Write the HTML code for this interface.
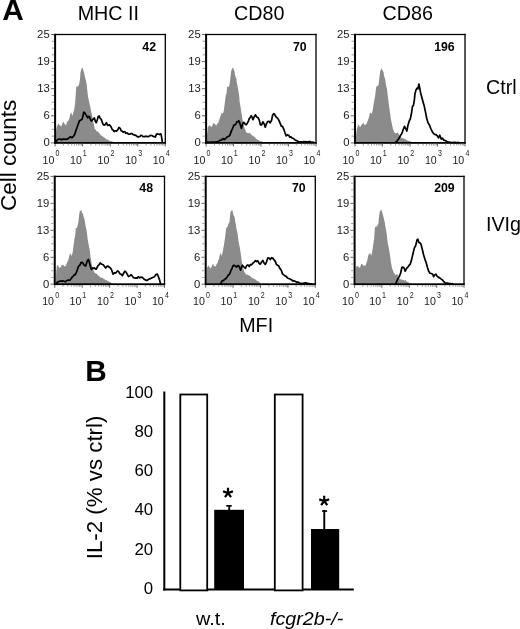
<!DOCTYPE html><html><head><meta charset="utf-8"><title>Figure</title><style>html,body{margin:0;padding:0;background:#fff;overflow:hidden;}svg{display:block;will-change:transform;}text{font-family:"Liberation Sans",sans-serif;}</style></head><body>
<svg width="520" height="629" viewBox="0 0 520 629">
<rect width="520" height="629" fill="#fff"/>
<text x="2.35" y="20.20" font-size="29.8" font-weight="bold">A</text>
<text x="77.72" y="20.00" font-size="19.7">MHC II</text>
<text x="234.11" y="20.20" font-size="19.7">CD80</text>
<text x="382.51" y="20.20" font-size="19.7">CD86</text>
<text x="486.12" y="94.10" font-size="19.7">Ctrl</text>
<text x="486.03" y="230.50" font-size="19.7">IVIg</text>
<text transform="translate(16.20,211.03) rotate(-90)" font-size="22.5">Cell counts</text>
<text x="239.22" y="332.30" font-size="19.7">MFI</text>
<text x="85.16" y="380.80" font-size="29.8" font-weight="bold">B</text>
<polygon points="55.60,143.00 56.20,129.92 56.90,126.07 57.60,125.52 58.30,123.03 59.05,124.86 59.80,125.56 60.50,125.45 61.20,126.70 61.95,124.55 62.70,122.78 63.60,121.63 64.60,124.06 65.30,124.66 66.00,125.39 66.75,122.67 67.50,121.40 68.40,120.73 69.40,118.34 70.30,113.94 71.30,112.24 72.30,115.96 73.20,113.06 74.20,109.59 75.20,102.59 75.90,92.31 76.30,86.71 77.20,86.16 77.85,86.72 78.50,85.63 79.40,83.04 80.10,77.98 80.40,72.73 81.00,70.39 82.00,67.61 82.60,67.76 83.30,70.37 84.20,72.90 84.80,76.56 85.50,79.10 86.10,81.15 86.80,84.87 87.10,88.59 87.70,93.96 88.30,98.31 89.00,101.36 90.10,105.64 91.00,110.41 92.00,115.40 92.90,120.12 93.90,124.69 94.90,129.49 95.60,129.31 96.30,130.98 97.05,131.67 97.80,131.01 98.70,132.99 99.45,133.13 100.20,134.60 100.83,135.20 101.47,135.48 102.10,136.30 102.73,136.18 103.37,137.03 104.00,137.39 104.67,137.87 105.33,138.26 106.00,139.08 106.60,139.46 107.20,139.38 107.80,139.82 108.40,139.68 109.00,140.44 109.60,140.64 110.20,141.11 110.80,141.23 111.40,141.12 112.00,141.43 112.60,141.80 113.20,141.62 113.80,142.08 114.40,142.12 115.00,142.50 117.00,143.00" fill="#8b8b8b"/>
<polyline points="56.20,141.99 57.20,139.88 57.80,139.61 58.80,139.11 59.80,139.20 60.75,139.37 61.70,139.79 62.65,139.02 63.60,139.16 64.55,139.14 65.50,139.31 66.50,139.16 67.50,139.10 68.20,138.36 68.90,138.23 69.90,137.17 70.80,136.89 71.80,137.73 72.80,136.97 73.70,135.97 74.70,134.31 75.60,131.39 76.60,128.69 77.60,125.96 78.50,123.37 79.50,120.51 80.40,120.35 81.40,119.76 82.40,118.64 82.80,116.44 83.80,112.14 84.80,112.83 85.70,114.41 86.70,116.02 87.70,117.86 88.60,116.42 89.60,116.75 90.50,119.67 91.50,121.04 92.50,119.81 93.40,118.82 94.40,117.89 95.30,121.24 96.30,122.66 97.30,119.77 98.20,116.58 99.20,115.99 100.20,118.31 101.10,119.19 102.10,121.63 103.00,124.17 104.00,125.18 105.20,124.45 106.40,122.65 107.60,125.37 108.50,125.21 109.40,124.67 110.30,125.75 111.20,127.02 112.30,129.79 113.20,130.04 114.10,131.70 115.30,130.76 116.50,131.15 117.70,129.98 118.90,127.51 120.10,128.15 121.30,130.97 122.20,131.17 123.10,132.26 124.00,131.64 124.90,131.76 125.80,133.29 126.70,133.04 127.55,133.16 128.40,134.25 129.60,134.26 130.80,133.63 132.00,133.62 133.20,134.63 134.40,135.03 135.60,135.14 136.50,136.06 137.40,136.68 138.30,137.07 139.20,136.63 140.10,136.29 141.00,135.21 141.90,135.50 142.80,136.52 143.65,136.70 144.50,136.57 145.40,136.32 146.30,136.14 147.20,136.64 148.10,136.73 149.00,136.42 149.90,135.65 150.80,135.40 151.70,135.50 152.60,136.07 153.50,136.36 154.40,136.79 155.30,137.06 156.50,134.14 157.70,133.95 158.55,134.30 159.40,134.55 160.20,133.94 161.00,134.10 161.80,138.33 162.40,142.60" fill="none" stroke="#000" stroke-width="1.7" stroke-linejoin="round"/>
<rect x="54.10" y="33.85" width="2" height="109.95" fill="#000"/>
<rect x="54.10" y="33.85" width="111.85" height="1.3" fill="#000"/>
<rect x="164.65" y="33.85" width="1.3" height="109.95" fill="#000"/>
<rect x="54.10" y="142.00" width="111.85" height="1.8" fill="#000"/>
<line x1="50.90" x2="54.10" y1="34.50" y2="34.50" stroke="#666" stroke-width="1"/>
<line x1="51.60" x2="54.10" y1="41.27" y2="41.27" stroke="#9a9a9a" stroke-width="1"/>
<line x1="51.60" x2="54.10" y1="48.05" y2="48.05" stroke="#9a9a9a" stroke-width="1"/>
<line x1="51.60" x2="54.10" y1="54.83" y2="54.83" stroke="#9a9a9a" stroke-width="1"/>
<line x1="50.90" x2="54.10" y1="61.60" y2="61.60" stroke="#666" stroke-width="1"/>
<line x1="51.60" x2="54.10" y1="68.38" y2="68.38" stroke="#9a9a9a" stroke-width="1"/>
<line x1="51.60" x2="54.10" y1="75.15" y2="75.15" stroke="#9a9a9a" stroke-width="1"/>
<line x1="51.60" x2="54.10" y1="81.93" y2="81.93" stroke="#9a9a9a" stroke-width="1"/>
<line x1="50.90" x2="54.10" y1="88.70" y2="88.70" stroke="#666" stroke-width="1"/>
<line x1="51.60" x2="54.10" y1="95.47" y2="95.47" stroke="#9a9a9a" stroke-width="1"/>
<line x1="51.60" x2="54.10" y1="102.25" y2="102.25" stroke="#9a9a9a" stroke-width="1"/>
<line x1="51.60" x2="54.10" y1="109.03" y2="109.03" stroke="#9a9a9a" stroke-width="1"/>
<line x1="50.90" x2="54.10" y1="115.80" y2="115.80" stroke="#666" stroke-width="1"/>
<line x1="51.60" x2="54.10" y1="122.58" y2="122.58" stroke="#9a9a9a" stroke-width="1"/>
<line x1="51.60" x2="54.10" y1="129.35" y2="129.35" stroke="#9a9a9a" stroke-width="1"/>
<line x1="51.60" x2="54.10" y1="136.12" y2="136.12" stroke="#9a9a9a" stroke-width="1"/>
<line x1="50.90" x2="54.10" y1="142.90" y2="142.90" stroke="#666" stroke-width="1"/>
<text x="37.11" y="38.05" font-size="11.3" fill="#1a1a1a">25</text>
<text x="37.17" y="65.15" font-size="11.3" fill="#1a1a1a">19</text>
<text x="37.17" y="92.25" font-size="11.3" fill="#1a1a1a">13</text>
<text x="43.44" y="119.35" font-size="11.3" fill="#1a1a1a">6</text>
<text x="43.38" y="146.45" font-size="11.3" fill="#1a1a1a">0</text>
<line x1="55.10" x2="55.10" y1="143.80" y2="146.50" stroke="#666" stroke-width="1"/>
<line x1="63.39" x2="63.39" y1="143.80" y2="145.50" stroke="#999" stroke-width="1"/>
<line x1="68.24" x2="68.24" y1="143.80" y2="145.50" stroke="#999" stroke-width="1"/>
<line x1="71.69" x2="71.69" y1="143.80" y2="145.50" stroke="#999" stroke-width="1"/>
<line x1="74.36" x2="74.36" y1="143.80" y2="145.50" stroke="#999" stroke-width="1"/>
<line x1="76.54" x2="76.54" y1="143.80" y2="145.50" stroke="#999" stroke-width="1"/>
<line x1="78.38" x2="78.38" y1="143.80" y2="145.50" stroke="#999" stroke-width="1"/>
<line x1="79.98" x2="79.98" y1="143.80" y2="145.50" stroke="#999" stroke-width="1"/>
<line x1="81.39" x2="81.39" y1="143.80" y2="145.50" stroke="#999" stroke-width="1"/>
<line x1="82.65" x2="82.65" y1="143.80" y2="146.50" stroke="#666" stroke-width="1"/>
<line x1="90.94" x2="90.94" y1="143.80" y2="145.50" stroke="#999" stroke-width="1"/>
<line x1="95.79" x2="95.79" y1="143.80" y2="145.50" stroke="#999" stroke-width="1"/>
<line x1="99.24" x2="99.24" y1="143.80" y2="145.50" stroke="#999" stroke-width="1"/>
<line x1="101.91" x2="101.91" y1="143.80" y2="145.50" stroke="#999" stroke-width="1"/>
<line x1="104.09" x2="104.09" y1="143.80" y2="145.50" stroke="#999" stroke-width="1"/>
<line x1="105.93" x2="105.93" y1="143.80" y2="145.50" stroke="#999" stroke-width="1"/>
<line x1="107.53" x2="107.53" y1="143.80" y2="145.50" stroke="#999" stroke-width="1"/>
<line x1="108.94" x2="108.94" y1="143.80" y2="145.50" stroke="#999" stroke-width="1"/>
<line x1="110.20" x2="110.20" y1="143.80" y2="146.50" stroke="#666" stroke-width="1"/>
<line x1="118.49" x2="118.49" y1="143.80" y2="145.50" stroke="#999" stroke-width="1"/>
<line x1="123.34" x2="123.34" y1="143.80" y2="145.50" stroke="#999" stroke-width="1"/>
<line x1="126.79" x2="126.79" y1="143.80" y2="145.50" stroke="#999" stroke-width="1"/>
<line x1="129.46" x2="129.46" y1="143.80" y2="145.50" stroke="#999" stroke-width="1"/>
<line x1="131.64" x2="131.64" y1="143.80" y2="145.50" stroke="#999" stroke-width="1"/>
<line x1="133.48" x2="133.48" y1="143.80" y2="145.50" stroke="#999" stroke-width="1"/>
<line x1="135.08" x2="135.08" y1="143.80" y2="145.50" stroke="#999" stroke-width="1"/>
<line x1="136.49" x2="136.49" y1="143.80" y2="145.50" stroke="#999" stroke-width="1"/>
<line x1="137.75" x2="137.75" y1="143.80" y2="146.50" stroke="#666" stroke-width="1"/>
<line x1="146.04" x2="146.04" y1="143.80" y2="145.50" stroke="#999" stroke-width="1"/>
<line x1="150.89" x2="150.89" y1="143.80" y2="145.50" stroke="#999" stroke-width="1"/>
<line x1="154.34" x2="154.34" y1="143.80" y2="145.50" stroke="#999" stroke-width="1"/>
<line x1="157.01" x2="157.01" y1="143.80" y2="145.50" stroke="#999" stroke-width="1"/>
<line x1="159.19" x2="159.19" y1="143.80" y2="145.50" stroke="#999" stroke-width="1"/>
<line x1="161.03" x2="161.03" y1="143.80" y2="145.50" stroke="#999" stroke-width="1"/>
<line x1="162.63" x2="162.63" y1="143.80" y2="145.50" stroke="#999" stroke-width="1"/>
<line x1="164.04" x2="164.04" y1="143.80" y2="145.50" stroke="#999" stroke-width="1"/>
<line x1="165.30" x2="165.30" y1="143.80" y2="146.50" stroke="#666" stroke-width="1"/>
<text transform="translate(42.52,163.50) scale(0.95,1)" font-size="11.2" fill="#222">10</text>
<text transform="translate(55.52,156.20) scale(0.85,1)" font-size="8.3" fill="#222">0</text>
<text transform="translate(70.07,163.50) scale(0.95,1)" font-size="11.2" fill="#222">10</text>
<text transform="translate(82.82,156.20) scale(0.85,1)" font-size="8.3" fill="#222">1</text>
<text transform="translate(97.62,163.50) scale(0.95,1)" font-size="11.2" fill="#222">10</text>
<text transform="translate(110.55,156.20) scale(0.85,1)" font-size="8.3" fill="#222">2</text>
<text transform="translate(125.17,163.50) scale(0.95,1)" font-size="11.2" fill="#222">10</text>
<text transform="translate(138.17,156.20) scale(0.85,1)" font-size="8.3" fill="#222">3</text>
<text transform="translate(152.72,163.50) scale(0.95,1)" font-size="11.2" fill="#222">10</text>
<text transform="translate(165.82,156.20) scale(0.85,1)" font-size="8.3" fill="#222">4</text>
<text x="142.34" y="50.80" font-size="12.3" font-weight="bold">42</text>
<polygon points="206.50,143.00 207.30,131.88 207.90,127.19 208.60,126.22 209.30,125.02 210.30,126.41 211.00,126.21 211.70,126.97 212.45,125.59 213.20,122.65 213.90,123.44 214.60,123.64 215.35,124.61 216.10,125.75 216.80,124.51 217.50,123.22 218.20,122.92 218.90,120.91 219.90,117.76 220.90,114.65 221.80,112.61 222.80,113.75 223.80,110.64 224.70,103.82 225.70,95.82 226.50,93.60 227.20,86.17 228.10,87.23 228.75,86.55 229.40,85.31 230.00,81.28 230.70,74.96 231.30,70.58 232.30,68.13 233.20,67.73 233.80,69.64 234.50,71.24 235.10,75.55 235.80,77.57 236.40,78.51 236.70,81.93 237.30,84.86 238.00,88.30 238.60,92.08 239.20,96.14 239.60,101.57 240.60,107.39 241.50,113.16 242.50,120.05 243.50,123.67 244.40,127.66 245.40,130.05 246.10,132.37 246.80,132.81 247.55,132.95 248.30,133.11 249.00,133.28 249.70,132.39 250.45,133.97 251.20,134.40 251.83,135.07 252.47,135.69 253.10,135.81 253.73,136.74 254.37,137.00 255.00,137.35 255.72,138.61 256.45,138.63 257.17,139.43 257.90,140.16 258.52,140.34 259.15,140.48 259.77,140.91 260.40,141.24 261.00,141.54 261.60,141.29 262.20,141.74 262.80,141.72 263.40,141.91 264.00,142.20 267.00,143.00" fill="#8b8b8b"/>
<polyline points="206.90,142.25 207.67,142.10 208.44,142.13 209.21,142.25 209.98,142.33 210.75,142.07 211.52,142.16 212.29,142.10 213.06,142.11 213.83,142.21 214.60,142.07 215.35,142.02 216.10,141.89 216.80,141.91 217.50,141.52 218.20,141.44 218.90,141.29 219.65,140.44 220.40,140.24 221.10,140.13 221.80,139.67 222.55,138.91 223.30,138.69 224.20,139.66 225.20,138.65 226.20,138.07 227.10,136.90 228.10,136.47 229.00,136.20 230.00,134.87 231.00,131.86 231.90,129.94 232.90,127.98 233.80,125.16 234.80,124.99 235.80,124.24 236.70,121.90 237.70,122.21 238.70,120.62 239.60,122.39 240.60,126.06 241.50,128.37 242.50,124.19 243.50,122.28 244.40,122.93 245.40,124.51 246.30,124.75 247.30,123.07 248.30,121.40 249.20,118.64 250.20,117.70 251.20,115.67 252.10,117.23 253.00,119.61 254.20,116.82 255.50,114.81 256.70,117.02 257.90,117.47 259.20,119.86 260.40,124.85 261.60,124.99 262.80,121.78 264.10,123.75 265.30,127.25 266.50,123.59 267.80,121.53 269.00,121.36 270.20,122.94 271.50,120.47 272.70,114.97 273.90,113.57 275.20,115.55 276.40,117.33 277.60,118.16 278.80,120.08 280.10,123.20 281.30,126.14 282.50,126.37 283.80,129.30 285.00,132.77 286.20,135.84 287.50,134.85 288.70,135.25 289.90,137.25 290.85,136.79 291.80,137.84 292.70,138.11 293.60,138.67 294.55,139.44 295.50,140.31 296.40,140.44 297.30,140.96 298.25,141.67 299.20,141.95 299.95,141.88 300.70,141.91 301.45,141.85 302.20,141.93 303.03,141.82 303.87,141.65 304.70,141.76 305.53,141.64 306.37,141.93 307.20,141.92 308.00,141.91 308.80,141.62 309.60,141.65 310.43,141.65 311.27,142.20 312.10,142.23 312.90,142.13 313.70,142.39 314.50,142.50" fill="none" stroke="#000" stroke-width="1.7" stroke-linejoin="round"/>
<rect x="205.10" y="33.85" width="2" height="109.95" fill="#000"/>
<rect x="205.10" y="33.85" width="111.55" height="1.3" fill="#000"/>
<rect x="315.35" y="33.85" width="1.3" height="109.95" fill="#000"/>
<rect x="205.10" y="142.00" width="111.55" height="1.8" fill="#000"/>
<line x1="201.90" x2="205.10" y1="34.50" y2="34.50" stroke="#666" stroke-width="1"/>
<line x1="202.60" x2="205.10" y1="41.27" y2="41.27" stroke="#9a9a9a" stroke-width="1"/>
<line x1="202.60" x2="205.10" y1="48.05" y2="48.05" stroke="#9a9a9a" stroke-width="1"/>
<line x1="202.60" x2="205.10" y1="54.83" y2="54.83" stroke="#9a9a9a" stroke-width="1"/>
<line x1="201.90" x2="205.10" y1="61.60" y2="61.60" stroke="#666" stroke-width="1"/>
<line x1="202.60" x2="205.10" y1="68.38" y2="68.38" stroke="#9a9a9a" stroke-width="1"/>
<line x1="202.60" x2="205.10" y1="75.15" y2="75.15" stroke="#9a9a9a" stroke-width="1"/>
<line x1="202.60" x2="205.10" y1="81.93" y2="81.93" stroke="#9a9a9a" stroke-width="1"/>
<line x1="201.90" x2="205.10" y1="88.70" y2="88.70" stroke="#666" stroke-width="1"/>
<line x1="202.60" x2="205.10" y1="95.47" y2="95.47" stroke="#9a9a9a" stroke-width="1"/>
<line x1="202.60" x2="205.10" y1="102.25" y2="102.25" stroke="#9a9a9a" stroke-width="1"/>
<line x1="202.60" x2="205.10" y1="109.03" y2="109.03" stroke="#9a9a9a" stroke-width="1"/>
<line x1="201.90" x2="205.10" y1="115.80" y2="115.80" stroke="#666" stroke-width="1"/>
<line x1="202.60" x2="205.10" y1="122.58" y2="122.58" stroke="#9a9a9a" stroke-width="1"/>
<line x1="202.60" x2="205.10" y1="129.35" y2="129.35" stroke="#9a9a9a" stroke-width="1"/>
<line x1="202.60" x2="205.10" y1="136.12" y2="136.12" stroke="#9a9a9a" stroke-width="1"/>
<line x1="201.90" x2="205.10" y1="142.90" y2="142.90" stroke="#666" stroke-width="1"/>
<text x="188.11" y="38.05" font-size="11.3" fill="#1a1a1a">25</text>
<text x="188.17" y="65.15" font-size="11.3" fill="#1a1a1a">19</text>
<text x="188.17" y="92.25" font-size="11.3" fill="#1a1a1a">13</text>
<text x="194.44" y="119.35" font-size="11.3" fill="#1a1a1a">6</text>
<text x="194.38" y="146.45" font-size="11.3" fill="#1a1a1a">0</text>
<line x1="206.10" x2="206.10" y1="143.80" y2="146.50" stroke="#666" stroke-width="1"/>
<line x1="214.37" x2="214.37" y1="143.80" y2="145.50" stroke="#999" stroke-width="1"/>
<line x1="219.21" x2="219.21" y1="143.80" y2="145.50" stroke="#999" stroke-width="1"/>
<line x1="222.64" x2="222.64" y1="143.80" y2="145.50" stroke="#999" stroke-width="1"/>
<line x1="225.30" x2="225.30" y1="143.80" y2="145.50" stroke="#999" stroke-width="1"/>
<line x1="227.48" x2="227.48" y1="143.80" y2="145.50" stroke="#999" stroke-width="1"/>
<line x1="229.32" x2="229.32" y1="143.80" y2="145.50" stroke="#999" stroke-width="1"/>
<line x1="230.91" x2="230.91" y1="143.80" y2="145.50" stroke="#999" stroke-width="1"/>
<line x1="232.32" x2="232.32" y1="143.80" y2="145.50" stroke="#999" stroke-width="1"/>
<line x1="233.57" x2="233.57" y1="143.80" y2="146.50" stroke="#666" stroke-width="1"/>
<line x1="241.85" x2="241.85" y1="143.80" y2="145.50" stroke="#999" stroke-width="1"/>
<line x1="246.68" x2="246.68" y1="143.80" y2="145.50" stroke="#999" stroke-width="1"/>
<line x1="250.12" x2="250.12" y1="143.80" y2="145.50" stroke="#999" stroke-width="1"/>
<line x1="252.78" x2="252.78" y1="143.80" y2="145.50" stroke="#999" stroke-width="1"/>
<line x1="254.95" x2="254.95" y1="143.80" y2="145.50" stroke="#999" stroke-width="1"/>
<line x1="256.79" x2="256.79" y1="143.80" y2="145.50" stroke="#999" stroke-width="1"/>
<line x1="258.39" x2="258.39" y1="143.80" y2="145.50" stroke="#999" stroke-width="1"/>
<line x1="259.79" x2="259.79" y1="143.80" y2="145.50" stroke="#999" stroke-width="1"/>
<line x1="261.05" x2="261.05" y1="143.80" y2="146.50" stroke="#666" stroke-width="1"/>
<line x1="269.32" x2="269.32" y1="143.80" y2="145.50" stroke="#999" stroke-width="1"/>
<line x1="274.16" x2="274.16" y1="143.80" y2="145.50" stroke="#999" stroke-width="1"/>
<line x1="277.59" x2="277.59" y1="143.80" y2="145.50" stroke="#999" stroke-width="1"/>
<line x1="280.25" x2="280.25" y1="143.80" y2="145.50" stroke="#999" stroke-width="1"/>
<line x1="282.43" x2="282.43" y1="143.80" y2="145.50" stroke="#999" stroke-width="1"/>
<line x1="284.27" x2="284.27" y1="143.80" y2="145.50" stroke="#999" stroke-width="1"/>
<line x1="285.86" x2="285.86" y1="143.80" y2="145.50" stroke="#999" stroke-width="1"/>
<line x1="287.27" x2="287.27" y1="143.80" y2="145.50" stroke="#999" stroke-width="1"/>
<line x1="288.52" x2="288.52" y1="143.80" y2="146.50" stroke="#666" stroke-width="1"/>
<line x1="296.80" x2="296.80" y1="143.80" y2="145.50" stroke="#999" stroke-width="1"/>
<line x1="301.63" x2="301.63" y1="143.80" y2="145.50" stroke="#999" stroke-width="1"/>
<line x1="305.07" x2="305.07" y1="143.80" y2="145.50" stroke="#999" stroke-width="1"/>
<line x1="307.73" x2="307.73" y1="143.80" y2="145.50" stroke="#999" stroke-width="1"/>
<line x1="309.90" x2="309.90" y1="143.80" y2="145.50" stroke="#999" stroke-width="1"/>
<line x1="311.74" x2="311.74" y1="143.80" y2="145.50" stroke="#999" stroke-width="1"/>
<line x1="313.34" x2="313.34" y1="143.80" y2="145.50" stroke="#999" stroke-width="1"/>
<line x1="314.74" x2="314.74" y1="143.80" y2="145.50" stroke="#999" stroke-width="1"/>
<line x1="316.00" x2="316.00" y1="143.80" y2="146.50" stroke="#666" stroke-width="1"/>
<text transform="translate(193.52,163.50) scale(0.95,1)" font-size="11.2" fill="#222">10</text>
<text transform="translate(206.52,156.20) scale(0.85,1)" font-size="8.3" fill="#222">0</text>
<text transform="translate(220.99,163.50) scale(0.95,1)" font-size="11.2" fill="#222">10</text>
<text transform="translate(233.75,156.20) scale(0.85,1)" font-size="8.3" fill="#222">1</text>
<text transform="translate(248.47,163.50) scale(0.95,1)" font-size="11.2" fill="#222">10</text>
<text transform="translate(261.40,156.20) scale(0.85,1)" font-size="8.3" fill="#222">2</text>
<text transform="translate(275.94,163.50) scale(0.95,1)" font-size="11.2" fill="#222">10</text>
<text transform="translate(288.94,156.20) scale(0.85,1)" font-size="8.3" fill="#222">3</text>
<text transform="translate(303.42,163.50) scale(0.95,1)" font-size="11.2" fill="#222">10</text>
<text transform="translate(316.52,156.20) scale(0.85,1)" font-size="8.3" fill="#222">4</text>
<text x="293.04" y="50.80" font-size="12.3" font-weight="bold">70</text>
<polygon points="355.60,143.00 356.30,133.17 356.90,128.51 357.60,126.67 358.30,124.18 359.30,126.29 360.00,127.10 360.70,126.51 361.45,125.06 362.20,123.74 362.90,124.02 363.60,122.62 364.35,124.45 365.10,125.17 365.80,124.54 366.50,123.63 367.20,121.88 367.90,120.26 368.90,117.40 369.90,113.03 370.80,112.73 371.80,113.67 372.80,109.72 373.70,103.48 374.50,99.18 375.20,95.20 375.70,91.09 376.20,87.01 377.10,86.04 377.75,85.78 378.40,85.78 379.00,80.92 379.70,74.67 380.30,70.47 381.30,69.23 381.90,68.26 382.50,70.38 383.50,72.06 384.10,76.25 384.80,77.80 385.40,80.32 385.70,83.33 386.30,86.14 387.00,88.69 387.60,94.40 388.30,99.94 389.10,106.50 390.10,113.03 391.00,119.87 392.00,124.58 392.90,128.65 393.90,131.37 394.90,132.90 395.60,133.25 396.30,133.17 397.05,133.11 397.80,132.54 398.50,133.76 399.20,134.59 399.90,136.18 400.60,137.85 401.25,137.57 401.90,137.69 402.55,138.46 403.20,137.89 403.85,138.72 404.50,138.97 405.15,138.81 405.80,139.76 406.48,140.12 407.15,140.24 407.82,140.64 408.50,141.01 409.15,140.76 409.80,141.22 410.45,141.40 411.10,141.80 411.75,141.98 412.40,142.00 415.00,143.00" fill="#8b8b8b"/>
<polyline points="395.30,142.48 396.05,141.80 396.80,141.45 398.00,139.64 399.00,138.32 400.00,136.53 400.95,134.68 401.90,133.46 403.20,129.48 404.50,126.30 405.80,128.86 406.90,131.03 407.80,125.77 409.10,121.43 410.40,118.60 411.70,111.99 412.40,106.51 413.40,105.66 414.30,100.33 415.00,93.70 416.00,89.86 417.00,88.09 417.90,88.87 418.90,84.03 419.60,87.07 420.50,92.17 421.50,96.17 422.80,101.02 424.20,105.94 425.50,112.13 426.80,118.76 428.10,123.09 429.40,124.89 430.70,128.26 432.00,131.27 433.30,133.25 434.60,134.34 435.90,134.67 437.20,135.76 438.50,137.89 439.80,135.23 441.20,139.00 442.50,138.23 443.80,140.15 445.10,140.47 446.05,141.02 447.00,141.66 448.00,142.05 449.00,142.21 449.87,142.33 450.73,142.25 451.60,142.51 452.36,142.49 453.13,142.50 453.89,142.33 454.65,142.74 455.42,142.39 456.18,142.81 456.95,142.79 457.71,142.32 458.47,142.56 459.24,142.76 460.00,142.60" fill="none" stroke="#000" stroke-width="1.7" stroke-linejoin="round"/>
<rect x="354.00" y="33.85" width="2" height="109.95" fill="#000"/>
<rect x="354.00" y="33.85" width="111.65" height="1.3" fill="#000"/>
<rect x="464.35" y="33.85" width="1.3" height="109.95" fill="#000"/>
<rect x="354.00" y="142.00" width="111.65" height="1.8" fill="#000"/>
<line x1="350.80" x2="354.00" y1="34.50" y2="34.50" stroke="#666" stroke-width="1"/>
<line x1="351.50" x2="354.00" y1="41.27" y2="41.27" stroke="#9a9a9a" stroke-width="1"/>
<line x1="351.50" x2="354.00" y1="48.05" y2="48.05" stroke="#9a9a9a" stroke-width="1"/>
<line x1="351.50" x2="354.00" y1="54.83" y2="54.83" stroke="#9a9a9a" stroke-width="1"/>
<line x1="350.80" x2="354.00" y1="61.60" y2="61.60" stroke="#666" stroke-width="1"/>
<line x1="351.50" x2="354.00" y1="68.38" y2="68.38" stroke="#9a9a9a" stroke-width="1"/>
<line x1="351.50" x2="354.00" y1="75.15" y2="75.15" stroke="#9a9a9a" stroke-width="1"/>
<line x1="351.50" x2="354.00" y1="81.93" y2="81.93" stroke="#9a9a9a" stroke-width="1"/>
<line x1="350.80" x2="354.00" y1="88.70" y2="88.70" stroke="#666" stroke-width="1"/>
<line x1="351.50" x2="354.00" y1="95.47" y2="95.47" stroke="#9a9a9a" stroke-width="1"/>
<line x1="351.50" x2="354.00" y1="102.25" y2="102.25" stroke="#9a9a9a" stroke-width="1"/>
<line x1="351.50" x2="354.00" y1="109.03" y2="109.03" stroke="#9a9a9a" stroke-width="1"/>
<line x1="350.80" x2="354.00" y1="115.80" y2="115.80" stroke="#666" stroke-width="1"/>
<line x1="351.50" x2="354.00" y1="122.58" y2="122.58" stroke="#9a9a9a" stroke-width="1"/>
<line x1="351.50" x2="354.00" y1="129.35" y2="129.35" stroke="#9a9a9a" stroke-width="1"/>
<line x1="351.50" x2="354.00" y1="136.12" y2="136.12" stroke="#9a9a9a" stroke-width="1"/>
<line x1="350.80" x2="354.00" y1="142.90" y2="142.90" stroke="#666" stroke-width="1"/>
<text x="337.01" y="38.05" font-size="11.3" fill="#1a1a1a">25</text>
<text x="337.07" y="65.15" font-size="11.3" fill="#1a1a1a">19</text>
<text x="337.07" y="92.25" font-size="11.3" fill="#1a1a1a">13</text>
<text x="343.34" y="119.35" font-size="11.3" fill="#1a1a1a">6</text>
<text x="343.28" y="146.45" font-size="11.3" fill="#1a1a1a">0</text>
<line x1="355.00" x2="355.00" y1="143.80" y2="146.50" stroke="#666" stroke-width="1"/>
<line x1="363.28" x2="363.28" y1="143.80" y2="145.50" stroke="#999" stroke-width="1"/>
<line x1="368.12" x2="368.12" y1="143.80" y2="145.50" stroke="#999" stroke-width="1"/>
<line x1="371.56" x2="371.56" y1="143.80" y2="145.50" stroke="#999" stroke-width="1"/>
<line x1="374.22" x2="374.22" y1="143.80" y2="145.50" stroke="#999" stroke-width="1"/>
<line x1="376.40" x2="376.40" y1="143.80" y2="145.50" stroke="#999" stroke-width="1"/>
<line x1="378.24" x2="378.24" y1="143.80" y2="145.50" stroke="#999" stroke-width="1"/>
<line x1="379.83" x2="379.83" y1="143.80" y2="145.50" stroke="#999" stroke-width="1"/>
<line x1="381.24" x2="381.24" y1="143.80" y2="145.50" stroke="#999" stroke-width="1"/>
<line x1="382.50" x2="382.50" y1="143.80" y2="146.50" stroke="#666" stroke-width="1"/>
<line x1="390.78" x2="390.78" y1="143.80" y2="145.50" stroke="#999" stroke-width="1"/>
<line x1="395.62" x2="395.62" y1="143.80" y2="145.50" stroke="#999" stroke-width="1"/>
<line x1="399.06" x2="399.06" y1="143.80" y2="145.50" stroke="#999" stroke-width="1"/>
<line x1="401.72" x2="401.72" y1="143.80" y2="145.50" stroke="#999" stroke-width="1"/>
<line x1="403.90" x2="403.90" y1="143.80" y2="145.50" stroke="#999" stroke-width="1"/>
<line x1="405.74" x2="405.74" y1="143.80" y2="145.50" stroke="#999" stroke-width="1"/>
<line x1="407.33" x2="407.33" y1="143.80" y2="145.50" stroke="#999" stroke-width="1"/>
<line x1="408.74" x2="408.74" y1="143.80" y2="145.50" stroke="#999" stroke-width="1"/>
<line x1="410.00" x2="410.00" y1="143.80" y2="146.50" stroke="#666" stroke-width="1"/>
<line x1="418.28" x2="418.28" y1="143.80" y2="145.50" stroke="#999" stroke-width="1"/>
<line x1="423.12" x2="423.12" y1="143.80" y2="145.50" stroke="#999" stroke-width="1"/>
<line x1="426.56" x2="426.56" y1="143.80" y2="145.50" stroke="#999" stroke-width="1"/>
<line x1="429.22" x2="429.22" y1="143.80" y2="145.50" stroke="#999" stroke-width="1"/>
<line x1="431.40" x2="431.40" y1="143.80" y2="145.50" stroke="#999" stroke-width="1"/>
<line x1="433.24" x2="433.24" y1="143.80" y2="145.50" stroke="#999" stroke-width="1"/>
<line x1="434.83" x2="434.83" y1="143.80" y2="145.50" stroke="#999" stroke-width="1"/>
<line x1="436.24" x2="436.24" y1="143.80" y2="145.50" stroke="#999" stroke-width="1"/>
<line x1="437.50" x2="437.50" y1="143.80" y2="146.50" stroke="#666" stroke-width="1"/>
<line x1="445.78" x2="445.78" y1="143.80" y2="145.50" stroke="#999" stroke-width="1"/>
<line x1="450.62" x2="450.62" y1="143.80" y2="145.50" stroke="#999" stroke-width="1"/>
<line x1="454.06" x2="454.06" y1="143.80" y2="145.50" stroke="#999" stroke-width="1"/>
<line x1="456.72" x2="456.72" y1="143.80" y2="145.50" stroke="#999" stroke-width="1"/>
<line x1="458.90" x2="458.90" y1="143.80" y2="145.50" stroke="#999" stroke-width="1"/>
<line x1="460.74" x2="460.74" y1="143.80" y2="145.50" stroke="#999" stroke-width="1"/>
<line x1="462.33" x2="462.33" y1="143.80" y2="145.50" stroke="#999" stroke-width="1"/>
<line x1="463.74" x2="463.74" y1="143.80" y2="145.50" stroke="#999" stroke-width="1"/>
<line x1="465.00" x2="465.00" y1="143.80" y2="146.50" stroke="#666" stroke-width="1"/>
<text transform="translate(342.42,163.50) scale(0.95,1)" font-size="11.2" fill="#222">10</text>
<text transform="translate(355.42,156.20) scale(0.85,1)" font-size="8.3" fill="#222">0</text>
<text transform="translate(369.92,163.50) scale(0.95,1)" font-size="11.2" fill="#222">10</text>
<text transform="translate(382.67,156.20) scale(0.85,1)" font-size="8.3" fill="#222">1</text>
<text transform="translate(397.42,163.50) scale(0.95,1)" font-size="11.2" fill="#222">10</text>
<text transform="translate(410.35,156.20) scale(0.85,1)" font-size="8.3" fill="#222">2</text>
<text transform="translate(424.92,163.50) scale(0.95,1)" font-size="11.2" fill="#222">10</text>
<text transform="translate(437.92,156.20) scale(0.85,1)" font-size="8.3" fill="#222">3</text>
<text transform="translate(452.42,163.50) scale(0.95,1)" font-size="11.2" fill="#222">10</text>
<text transform="translate(465.52,156.20) scale(0.85,1)" font-size="8.3" fill="#222">4</text>
<text x="434.15" y="50.80" font-size="12.3" font-weight="bold">196</text>
<polygon points="55.60,285.00 56.20,272.21 56.90,265.71 57.80,264.98 58.55,266.08 59.30,268.60 60.00,267.03 60.70,267.45 61.45,265.21 62.20,264.44 62.90,265.71 63.60,264.74 64.35,266.43 65.10,266.32 65.80,265.80 66.50,264.27 67.20,261.97 67.90,261.21 68.90,257.69 69.90,253.44 70.80,253.91 71.80,256.20 72.80,251.37 73.70,244.59 74.40,239.41 75.30,234.42 75.90,227.87 76.90,228.11 77.90,224.73 78.50,220.64 79.10,215.58 79.80,210.92 80.70,210.77 81.40,209.82 82.00,213.02 82.90,213.39 83.60,216.63 84.50,219.24 85.20,223.37 85.80,227.55 86.40,229.32 87.10,234.46 87.70,239.48 88.40,243.26 89.60,249.28 90.50,256.38 91.50,262.88 92.50,268.04 93.40,270.30 94.40,272.27 95.10,273.32 95.80,273.59 96.55,273.83 97.30,274.60 98.00,275.23 98.70,275.87 99.45,276.35 100.20,277.35 100.83,277.70 101.47,277.62 102.10,278.12 102.73,277.76 103.37,278.72 104.00,278.75 104.72,279.50 105.45,279.87 106.18,280.05 106.90,280.35 107.53,281.32 108.15,281.03 108.78,281.58 109.40,281.79 110.02,282.03 110.64,282.57 111.26,282.98 111.88,282.80 112.50,283.20 115.00,285.00" fill="#8b8b8b"/>
<polyline points="56.00,284.08 56.90,282.58 58.30,281.74 59.05,281.47 59.80,281.16 60.50,281.05 61.20,280.98 61.95,281.31 62.70,280.80 64.10,281.20 64.80,281.60 65.50,281.57 66.25,280.96 67.00,280.52 67.70,280.31 68.40,279.97 69.15,280.27 69.90,280.17 70.80,279.07 71.80,277.66 72.80,276.48 73.70,275.48 74.70,274.33 75.30,274.89 76.10,272.98 77.10,270.71 78.00,267.58 79.00,265.51 80.00,265.16 80.90,262.60 81.90,262.34 82.80,262.73 83.80,264.91 84.80,265.63 85.70,266.00 86.70,262.49 87.70,260.19 88.60,259.46 89.60,263.35 90.50,266.70 91.50,269.49 92.50,267.93 93.40,268.47 94.40,267.87 95.30,268.92 96.30,269.06 97.30,267.01 98.20,265.35 99.20,264.56 100.20,263.00 101.10,263.90 102.00,264.27 103.20,264.69 104.50,266.54 105.70,268.05 106.60,266.60 107.50,266.20 108.45,266.43 109.40,267.24 110.60,268.13 111.80,270.41 113.10,274.19 114.30,272.91 115.25,273.08 116.20,272.64 117.40,270.88 118.60,271.42 119.80,273.69 121.10,274.16 122.30,275.71 123.50,273.50 124.80,271.20 126.00,272.17 127.20,274.18 128.50,276.55 129.70,276.03 130.90,274.73 132.20,275.92 133.40,277.63 134.30,277.98 135.20,278.09 136.15,277.83 137.10,278.10 138.30,276.68 139.50,277.80 140.80,277.16 142.00,277.30 143.20,278.14 144.50,279.55 145.70,280.08 146.90,280.49 148.20,279.48 149.40,278.94 150.30,278.70 151.20,278.32 152.50,277.52 153.70,277.20 154.90,276.00 156.20,274.40 157.40,274.19 158.50,276.95 159.60,279.91 160.20,282.65 160.50,284.20" fill="none" stroke="#000" stroke-width="1.7" stroke-linejoin="round"/>
<rect x="53.75" y="175.75" width="2" height="109.35" fill="#000"/>
<rect x="53.75" y="175.75" width="111.40" height="1.3" fill="#000"/>
<rect x="163.85" y="175.75" width="1.3" height="109.35" fill="#000"/>
<rect x="53.75" y="283.30" width="111.40" height="1.8" fill="#000"/>
<line x1="50.55" x2="53.75" y1="176.40" y2="176.40" stroke="#666" stroke-width="1"/>
<line x1="51.25" x2="53.75" y1="183.14" y2="183.14" stroke="#9a9a9a" stroke-width="1"/>
<line x1="51.25" x2="53.75" y1="189.88" y2="189.88" stroke="#9a9a9a" stroke-width="1"/>
<line x1="51.25" x2="53.75" y1="196.61" y2="196.61" stroke="#9a9a9a" stroke-width="1"/>
<line x1="50.55" x2="53.75" y1="203.35" y2="203.35" stroke="#666" stroke-width="1"/>
<line x1="51.25" x2="53.75" y1="210.09" y2="210.09" stroke="#9a9a9a" stroke-width="1"/>
<line x1="51.25" x2="53.75" y1="216.82" y2="216.82" stroke="#9a9a9a" stroke-width="1"/>
<line x1="51.25" x2="53.75" y1="223.56" y2="223.56" stroke="#9a9a9a" stroke-width="1"/>
<line x1="50.55" x2="53.75" y1="230.30" y2="230.30" stroke="#666" stroke-width="1"/>
<line x1="51.25" x2="53.75" y1="237.04" y2="237.04" stroke="#9a9a9a" stroke-width="1"/>
<line x1="51.25" x2="53.75" y1="243.77" y2="243.77" stroke="#9a9a9a" stroke-width="1"/>
<line x1="51.25" x2="53.75" y1="250.51" y2="250.51" stroke="#9a9a9a" stroke-width="1"/>
<line x1="50.55" x2="53.75" y1="257.25" y2="257.25" stroke="#666" stroke-width="1"/>
<line x1="51.25" x2="53.75" y1="263.99" y2="263.99" stroke="#9a9a9a" stroke-width="1"/>
<line x1="51.25" x2="53.75" y1="270.73" y2="270.73" stroke="#9a9a9a" stroke-width="1"/>
<line x1="51.25" x2="53.75" y1="277.46" y2="277.46" stroke="#9a9a9a" stroke-width="1"/>
<line x1="50.55" x2="53.75" y1="284.20" y2="284.20" stroke="#666" stroke-width="1"/>
<text x="36.76" y="179.95" font-size="11.3" fill="#1a1a1a">25</text>
<text x="36.82" y="206.90" font-size="11.3" fill="#1a1a1a">19</text>
<text x="36.82" y="233.85" font-size="11.3" fill="#1a1a1a">13</text>
<text x="43.09" y="260.80" font-size="11.3" fill="#1a1a1a">6</text>
<text x="43.03" y="287.75" font-size="11.3" fill="#1a1a1a">0</text>
<line x1="54.75" x2="54.75" y1="285.10" y2="287.80" stroke="#666" stroke-width="1"/>
<line x1="63.01" x2="63.01" y1="285.10" y2="286.80" stroke="#999" stroke-width="1"/>
<line x1="67.84" x2="67.84" y1="285.10" y2="286.80" stroke="#999" stroke-width="1"/>
<line x1="71.27" x2="71.27" y1="285.10" y2="286.80" stroke="#999" stroke-width="1"/>
<line x1="73.93" x2="73.93" y1="285.10" y2="286.80" stroke="#999" stroke-width="1"/>
<line x1="76.10" x2="76.10" y1="285.10" y2="286.80" stroke="#999" stroke-width="1"/>
<line x1="77.94" x2="77.94" y1="285.10" y2="286.80" stroke="#999" stroke-width="1"/>
<line x1="79.53" x2="79.53" y1="285.10" y2="286.80" stroke="#999" stroke-width="1"/>
<line x1="80.93" x2="80.93" y1="285.10" y2="286.80" stroke="#999" stroke-width="1"/>
<line x1="82.19" x2="82.19" y1="285.10" y2="287.80" stroke="#666" stroke-width="1"/>
<line x1="90.45" x2="90.45" y1="285.10" y2="286.80" stroke="#999" stroke-width="1"/>
<line x1="95.28" x2="95.28" y1="285.10" y2="286.80" stroke="#999" stroke-width="1"/>
<line x1="98.71" x2="98.71" y1="285.10" y2="286.80" stroke="#999" stroke-width="1"/>
<line x1="101.37" x2="101.37" y1="285.10" y2="286.80" stroke="#999" stroke-width="1"/>
<line x1="103.54" x2="103.54" y1="285.10" y2="286.80" stroke="#999" stroke-width="1"/>
<line x1="105.37" x2="105.37" y1="285.10" y2="286.80" stroke="#999" stroke-width="1"/>
<line x1="106.97" x2="106.97" y1="285.10" y2="286.80" stroke="#999" stroke-width="1"/>
<line x1="108.37" x2="108.37" y1="285.10" y2="286.80" stroke="#999" stroke-width="1"/>
<line x1="109.62" x2="109.62" y1="285.10" y2="287.80" stroke="#666" stroke-width="1"/>
<line x1="117.88" x2="117.88" y1="285.10" y2="286.80" stroke="#999" stroke-width="1"/>
<line x1="122.72" x2="122.72" y1="285.10" y2="286.80" stroke="#999" stroke-width="1"/>
<line x1="126.14" x2="126.14" y1="285.10" y2="286.80" stroke="#999" stroke-width="1"/>
<line x1="128.80" x2="128.80" y1="285.10" y2="286.80" stroke="#999" stroke-width="1"/>
<line x1="130.98" x2="130.98" y1="285.10" y2="286.80" stroke="#999" stroke-width="1"/>
<line x1="132.81" x2="132.81" y1="285.10" y2="286.80" stroke="#999" stroke-width="1"/>
<line x1="134.40" x2="134.40" y1="285.10" y2="286.80" stroke="#999" stroke-width="1"/>
<line x1="135.81" x2="135.81" y1="285.10" y2="286.80" stroke="#999" stroke-width="1"/>
<line x1="137.06" x2="137.06" y1="285.10" y2="287.80" stroke="#666" stroke-width="1"/>
<line x1="145.32" x2="145.32" y1="285.10" y2="286.80" stroke="#999" stroke-width="1"/>
<line x1="150.15" x2="150.15" y1="285.10" y2="286.80" stroke="#999" stroke-width="1"/>
<line x1="153.58" x2="153.58" y1="285.10" y2="286.80" stroke="#999" stroke-width="1"/>
<line x1="156.24" x2="156.24" y1="285.10" y2="286.80" stroke="#999" stroke-width="1"/>
<line x1="158.41" x2="158.41" y1="285.10" y2="286.80" stroke="#999" stroke-width="1"/>
<line x1="160.25" x2="160.25" y1="285.10" y2="286.80" stroke="#999" stroke-width="1"/>
<line x1="161.84" x2="161.84" y1="285.10" y2="286.80" stroke="#999" stroke-width="1"/>
<line x1="163.24" x2="163.24" y1="285.10" y2="286.80" stroke="#999" stroke-width="1"/>
<line x1="164.50" x2="164.50" y1="285.10" y2="287.80" stroke="#666" stroke-width="1"/>
<text transform="translate(42.17,304.80) scale(0.95,1)" font-size="11.2" fill="#222">10</text>
<text transform="translate(55.17,297.50) scale(0.85,1)" font-size="8.3" fill="#222">0</text>
<text transform="translate(69.60,304.80) scale(0.95,1)" font-size="11.2" fill="#222">10</text>
<text transform="translate(82.36,297.50) scale(0.85,1)" font-size="8.3" fill="#222">1</text>
<text transform="translate(97.04,304.80) scale(0.95,1)" font-size="11.2" fill="#222">10</text>
<text transform="translate(109.97,297.50) scale(0.85,1)" font-size="8.3" fill="#222">2</text>
<text transform="translate(124.48,304.80) scale(0.95,1)" font-size="11.2" fill="#222">10</text>
<text transform="translate(137.48,297.50) scale(0.85,1)" font-size="8.3" fill="#222">3</text>
<text transform="translate(151.92,304.80) scale(0.95,1)" font-size="11.2" fill="#222">10</text>
<text transform="translate(165.02,297.50) scale(0.85,1)" font-size="8.3" fill="#222">4</text>
<text x="139.32" y="192.00" font-size="12.3" font-weight="bold">48</text>
<polygon points="206.50,285.00 206.90,267.89 207.65,266.76 208.40,265.26 209.30,267.13 210.05,267.21 210.80,268.86 211.50,266.93 212.20,264.91 213.20,263.87 213.90,266.20 214.60,265.96 215.35,266.63 216.10,265.32 216.80,263.65 217.50,262.97 218.20,260.43 218.90,259.34 219.90,254.29 220.90,253.13 221.80,256.05 222.80,251.36 223.80,245.79 224.50,241.24 225.30,235.81 226.20,228.01 227.20,227.34 227.80,226.16 228.40,223.66 229.40,222.56 230.00,216.46 230.40,212.24 231.30,210.72 232.30,209.91 232.90,212.43 233.50,215.10 234.50,216.93 235.10,220.41 235.80,224.13 236.40,228.44 237.00,230.83 237.70,234.25 238.30,239.69 239.00,243.93 239.60,246.43 240.10,249.41 241.10,256.02 242.00,262.73 243.00,267.68 243.90,270.47 244.65,272.77 245.40,272.99 246.10,274.85 246.80,274.64 247.55,274.57 248.30,274.91 249.00,275.59 249.70,275.82 250.45,276.15 251.20,277.37 251.83,277.57 252.47,278.42 253.10,278.00 253.73,278.51 254.37,279.33 255.00,278.88 255.72,279.75 256.45,280.60 257.17,281.08 257.90,281.07 258.52,281.53 259.15,282.01 259.77,283.01 260.40,283.20 264.00,285.00" fill="#8b8b8b"/>
<polyline points="219.40,283.98 220.15,283.78 220.90,283.43 221.80,281.28 222.55,280.68 223.30,280.67 224.70,279.40 225.45,278.58 226.20,278.51 226.90,277.16 227.60,276.15 228.30,274.85 229.00,274.83 230.00,273.19 231.00,270.27 231.90,268.60 232.90,265.94 233.80,265.32 234.80,265.66 235.80,266.62 236.70,267.12 237.70,265.50 238.70,265.85 239.60,267.67 240.60,270.20 241.50,267.07 242.50,265.23 243.50,266.84 244.40,267.23 245.40,268.38 246.30,266.29 247.30,265.09 248.30,265.09 249.20,266.48 250.20,264.65 251.20,264.91 252.10,264.14 253.00,262.96 254.20,262.16 255.50,260.65 256.70,261.52 257.90,260.86 259.20,263.59 260.40,264.11 261.60,261.96 262.80,260.49 264.10,263.18 265.30,264.38 266.50,262.08 267.80,257.87 269.00,258.00 270.20,259.58 271.50,257.70 272.70,258.12 273.90,259.65 275.20,261.16 276.40,264.51 277.60,265.25 278.80,266.02 280.10,268.79 281.30,270.31 282.50,273.86 283.80,274.95 285.00,275.88 286.20,276.36 287.50,277.94 288.70,278.42 289.90,278.97 290.85,279.48 291.80,279.92 292.70,280.81 293.60,280.86 294.55,281.07 295.50,281.53 296.40,282.14 297.30,282.00 298.25,282.12 299.20,282.79 300.10,283.19 301.00,283.87 301.83,283.24 302.67,283.32 303.50,283.39 304.40,283.11 305.30,282.86 306.25,282.83 307.20,283.49 308.00,283.46 308.80,283.57 309.60,284.05 310.34,283.90 311.08,284.14 311.82,283.91 312.56,284.23 313.30,284.10" fill="none" stroke="#000" stroke-width="1.7" stroke-linejoin="round"/>
<rect x="204.70" y="175.75" width="2" height="109.35" fill="#000"/>
<rect x="204.70" y="175.75" width="111.25" height="1.3" fill="#000"/>
<rect x="314.65" y="175.75" width="1.3" height="109.35" fill="#000"/>
<rect x="204.70" y="283.30" width="111.25" height="1.8" fill="#000"/>
<line x1="201.50" x2="204.70" y1="176.40" y2="176.40" stroke="#666" stroke-width="1"/>
<line x1="202.20" x2="204.70" y1="183.14" y2="183.14" stroke="#9a9a9a" stroke-width="1"/>
<line x1="202.20" x2="204.70" y1="189.88" y2="189.88" stroke="#9a9a9a" stroke-width="1"/>
<line x1="202.20" x2="204.70" y1="196.61" y2="196.61" stroke="#9a9a9a" stroke-width="1"/>
<line x1="201.50" x2="204.70" y1="203.35" y2="203.35" stroke="#666" stroke-width="1"/>
<line x1="202.20" x2="204.70" y1="210.09" y2="210.09" stroke="#9a9a9a" stroke-width="1"/>
<line x1="202.20" x2="204.70" y1="216.82" y2="216.82" stroke="#9a9a9a" stroke-width="1"/>
<line x1="202.20" x2="204.70" y1="223.56" y2="223.56" stroke="#9a9a9a" stroke-width="1"/>
<line x1="201.50" x2="204.70" y1="230.30" y2="230.30" stroke="#666" stroke-width="1"/>
<line x1="202.20" x2="204.70" y1="237.04" y2="237.04" stroke="#9a9a9a" stroke-width="1"/>
<line x1="202.20" x2="204.70" y1="243.77" y2="243.77" stroke="#9a9a9a" stroke-width="1"/>
<line x1="202.20" x2="204.70" y1="250.51" y2="250.51" stroke="#9a9a9a" stroke-width="1"/>
<line x1="201.50" x2="204.70" y1="257.25" y2="257.25" stroke="#666" stroke-width="1"/>
<line x1="202.20" x2="204.70" y1="263.99" y2="263.99" stroke="#9a9a9a" stroke-width="1"/>
<line x1="202.20" x2="204.70" y1="270.73" y2="270.73" stroke="#9a9a9a" stroke-width="1"/>
<line x1="202.20" x2="204.70" y1="277.46" y2="277.46" stroke="#9a9a9a" stroke-width="1"/>
<line x1="201.50" x2="204.70" y1="284.20" y2="284.20" stroke="#666" stroke-width="1"/>
<text x="187.71" y="179.95" font-size="11.3" fill="#1a1a1a">25</text>
<text x="187.77" y="206.90" font-size="11.3" fill="#1a1a1a">19</text>
<text x="187.77" y="233.85" font-size="11.3" fill="#1a1a1a">13</text>
<text x="194.04" y="260.80" font-size="11.3" fill="#1a1a1a">6</text>
<text x="193.98" y="287.75" font-size="11.3" fill="#1a1a1a">0</text>
<line x1="205.70" x2="205.70" y1="285.10" y2="287.80" stroke="#666" stroke-width="1"/>
<line x1="213.95" x2="213.95" y1="285.10" y2="286.80" stroke="#999" stroke-width="1"/>
<line x1="218.77" x2="218.77" y1="285.10" y2="286.80" stroke="#999" stroke-width="1"/>
<line x1="222.20" x2="222.20" y1="285.10" y2="286.80" stroke="#999" stroke-width="1"/>
<line x1="224.85" x2="224.85" y1="285.10" y2="286.80" stroke="#999" stroke-width="1"/>
<line x1="227.02" x2="227.02" y1="285.10" y2="286.80" stroke="#999" stroke-width="1"/>
<line x1="228.86" x2="228.86" y1="285.10" y2="286.80" stroke="#999" stroke-width="1"/>
<line x1="230.44" x2="230.44" y1="285.10" y2="286.80" stroke="#999" stroke-width="1"/>
<line x1="231.85" x2="231.85" y1="285.10" y2="286.80" stroke="#999" stroke-width="1"/>
<line x1="233.10" x2="233.10" y1="285.10" y2="287.80" stroke="#666" stroke-width="1"/>
<line x1="241.35" x2="241.35" y1="285.10" y2="286.80" stroke="#999" stroke-width="1"/>
<line x1="246.17" x2="246.17" y1="285.10" y2="286.80" stroke="#999" stroke-width="1"/>
<line x1="249.60" x2="249.60" y1="285.10" y2="286.80" stroke="#999" stroke-width="1"/>
<line x1="252.25" x2="252.25" y1="285.10" y2="286.80" stroke="#999" stroke-width="1"/>
<line x1="254.42" x2="254.42" y1="285.10" y2="286.80" stroke="#999" stroke-width="1"/>
<line x1="256.26" x2="256.26" y1="285.10" y2="286.80" stroke="#999" stroke-width="1"/>
<line x1="257.84" x2="257.84" y1="285.10" y2="286.80" stroke="#999" stroke-width="1"/>
<line x1="259.25" x2="259.25" y1="285.10" y2="286.80" stroke="#999" stroke-width="1"/>
<line x1="260.50" x2="260.50" y1="285.10" y2="287.80" stroke="#666" stroke-width="1"/>
<line x1="268.75" x2="268.75" y1="285.10" y2="286.80" stroke="#999" stroke-width="1"/>
<line x1="273.57" x2="273.57" y1="285.10" y2="286.80" stroke="#999" stroke-width="1"/>
<line x1="277.00" x2="277.00" y1="285.10" y2="286.80" stroke="#999" stroke-width="1"/>
<line x1="279.65" x2="279.65" y1="285.10" y2="286.80" stroke="#999" stroke-width="1"/>
<line x1="281.82" x2="281.82" y1="285.10" y2="286.80" stroke="#999" stroke-width="1"/>
<line x1="283.66" x2="283.66" y1="285.10" y2="286.80" stroke="#999" stroke-width="1"/>
<line x1="285.24" x2="285.24" y1="285.10" y2="286.80" stroke="#999" stroke-width="1"/>
<line x1="286.65" x2="286.65" y1="285.10" y2="286.80" stroke="#999" stroke-width="1"/>
<line x1="287.90" x2="287.90" y1="285.10" y2="287.80" stroke="#666" stroke-width="1"/>
<line x1="296.15" x2="296.15" y1="285.10" y2="286.80" stroke="#999" stroke-width="1"/>
<line x1="300.97" x2="300.97" y1="285.10" y2="286.80" stroke="#999" stroke-width="1"/>
<line x1="304.40" x2="304.40" y1="285.10" y2="286.80" stroke="#999" stroke-width="1"/>
<line x1="307.05" x2="307.05" y1="285.10" y2="286.80" stroke="#999" stroke-width="1"/>
<line x1="309.22" x2="309.22" y1="285.10" y2="286.80" stroke="#999" stroke-width="1"/>
<line x1="311.06" x2="311.06" y1="285.10" y2="286.80" stroke="#999" stroke-width="1"/>
<line x1="312.64" x2="312.64" y1="285.10" y2="286.80" stroke="#999" stroke-width="1"/>
<line x1="314.05" x2="314.05" y1="285.10" y2="286.80" stroke="#999" stroke-width="1"/>
<line x1="315.30" x2="315.30" y1="285.10" y2="287.80" stroke="#666" stroke-width="1"/>
<text transform="translate(193.12,304.80) scale(0.95,1)" font-size="11.2" fill="#222">10</text>
<text transform="translate(206.12,297.50) scale(0.85,1)" font-size="8.3" fill="#222">0</text>
<text transform="translate(220.52,304.80) scale(0.95,1)" font-size="11.2" fill="#222">10</text>
<text transform="translate(233.27,297.50) scale(0.85,1)" font-size="8.3" fill="#222">1</text>
<text transform="translate(247.92,304.80) scale(0.95,1)" font-size="11.2" fill="#222">10</text>
<text transform="translate(260.85,297.50) scale(0.85,1)" font-size="8.3" fill="#222">2</text>
<text transform="translate(275.32,304.80) scale(0.95,1)" font-size="11.2" fill="#222">10</text>
<text transform="translate(288.32,297.50) scale(0.85,1)" font-size="8.3" fill="#222">3</text>
<text transform="translate(302.72,304.80) scale(0.95,1)" font-size="11.2" fill="#222">10</text>
<text transform="translate(315.82,297.50) scale(0.85,1)" font-size="8.3" fill="#222">4</text>
<text x="292.04" y="192.00" font-size="12.3" font-weight="bold">70</text>
<polygon points="355.60,285.00 355.90,267.71 356.65,265.92 357.40,265.40 358.30,267.60 359.05,266.59 359.80,267.97 360.50,266.32 361.20,263.89 362.20,264.16 362.90,264.70 363.60,265.77 364.35,265.61 365.10,265.98 365.80,264.67 366.50,262.84 367.50,259.34 368.40,254.99 369.40,253.62 370.30,253.23 371.30,255.70 372.30,251.24 373.20,244.86 374.20,238.03 374.90,227.41 375.55,226.83 376.20,226.71 377.40,225.69 378.40,223.18 379.00,216.48 379.70,212.12 380.60,210.35 381.30,209.65 381.90,211.48 382.50,213.40 383.50,216.94 384.10,219.80 384.80,222.44 385.40,226.82 386.00,229.35 386.70,234.10 387.30,239.87 387.90,243.93 388.50,246.59 389.10,249.62 390.10,256.04 391.00,262.73 392.00,268.02 392.90,270.58 393.65,272.57 394.40,273.37 395.10,274.75 395.80,274.95 396.55,274.33 397.30,273.88 398.00,276.01 398.70,277.55 399.45,278.75 400.20,278.93 400.83,279.57 401.47,279.52 402.10,279.80 402.73,279.67 403.37,279.95 404.00,280.32 404.60,280.65 405.20,279.98 405.80,280.29 406.47,281.20 407.13,281.96 407.80,282.10 408.44,282.32 409.08,283.09 409.72,283.36 410.36,283.33 411.00,283.60 414.00,285.00" fill="#8b8b8b"/>
<polyline points="395.30,284.18 396.05,283.06 396.80,281.12 398.00,278.69 399.30,276.44 400.60,273.24 401.90,267.29 403.00,267.11 403.90,267.75 405.20,271.16 406.50,268.52 407.80,267.19 409.10,265.33 410.40,263.85 411.70,259.35 413.00,253.51 414.30,248.09 415.70,245.50 417.00,239.94 417.90,239.22 418.90,242.42 420.00,242.87 421.00,244.33 422.20,249.04 423.50,254.55 424.80,258.88 426.10,262.49 427.40,267.25 428.70,271.28 430.00,273.28 431.30,273.54 432.70,274.30 433.60,276.69 434.60,275.01 435.90,274.21 437.20,276.34 438.50,277.34 439.80,277.84 441.20,279.11 442.50,279.99 443.80,281.72 445.10,282.86 446.05,283.12 447.00,283.18 448.00,283.22 449.00,283.59 449.78,283.47 450.56,283.56 451.34,283.80 452.12,283.71 452.90,284.00" fill="none" stroke="#000" stroke-width="1.7" stroke-linejoin="round"/>
<rect x="353.60" y="175.75" width="2" height="109.35" fill="#000"/>
<rect x="353.60" y="175.75" width="111.05" height="1.3" fill="#000"/>
<rect x="463.35" y="175.75" width="1.3" height="109.35" fill="#000"/>
<rect x="353.60" y="283.30" width="111.05" height="1.8" fill="#000"/>
<line x1="350.40" x2="353.60" y1="176.40" y2="176.40" stroke="#666" stroke-width="1"/>
<line x1="351.10" x2="353.60" y1="183.14" y2="183.14" stroke="#9a9a9a" stroke-width="1"/>
<line x1="351.10" x2="353.60" y1="189.88" y2="189.88" stroke="#9a9a9a" stroke-width="1"/>
<line x1="351.10" x2="353.60" y1="196.61" y2="196.61" stroke="#9a9a9a" stroke-width="1"/>
<line x1="350.40" x2="353.60" y1="203.35" y2="203.35" stroke="#666" stroke-width="1"/>
<line x1="351.10" x2="353.60" y1="210.09" y2="210.09" stroke="#9a9a9a" stroke-width="1"/>
<line x1="351.10" x2="353.60" y1="216.82" y2="216.82" stroke="#9a9a9a" stroke-width="1"/>
<line x1="351.10" x2="353.60" y1="223.56" y2="223.56" stroke="#9a9a9a" stroke-width="1"/>
<line x1="350.40" x2="353.60" y1="230.30" y2="230.30" stroke="#666" stroke-width="1"/>
<line x1="351.10" x2="353.60" y1="237.04" y2="237.04" stroke="#9a9a9a" stroke-width="1"/>
<line x1="351.10" x2="353.60" y1="243.77" y2="243.77" stroke="#9a9a9a" stroke-width="1"/>
<line x1="351.10" x2="353.60" y1="250.51" y2="250.51" stroke="#9a9a9a" stroke-width="1"/>
<line x1="350.40" x2="353.60" y1="257.25" y2="257.25" stroke="#666" stroke-width="1"/>
<line x1="351.10" x2="353.60" y1="263.99" y2="263.99" stroke="#9a9a9a" stroke-width="1"/>
<line x1="351.10" x2="353.60" y1="270.73" y2="270.73" stroke="#9a9a9a" stroke-width="1"/>
<line x1="351.10" x2="353.60" y1="277.46" y2="277.46" stroke="#9a9a9a" stroke-width="1"/>
<line x1="350.40" x2="353.60" y1="284.20" y2="284.20" stroke="#666" stroke-width="1"/>
<text x="336.61" y="179.95" font-size="11.3" fill="#1a1a1a">25</text>
<text x="336.67" y="206.90" font-size="11.3" fill="#1a1a1a">19</text>
<text x="336.67" y="233.85" font-size="11.3" fill="#1a1a1a">13</text>
<text x="342.94" y="260.80" font-size="11.3" fill="#1a1a1a">6</text>
<text x="342.88" y="287.75" font-size="11.3" fill="#1a1a1a">0</text>
<line x1="354.60" x2="354.60" y1="285.10" y2="287.80" stroke="#666" stroke-width="1"/>
<line x1="362.83" x2="362.83" y1="285.10" y2="286.80" stroke="#999" stroke-width="1"/>
<line x1="367.65" x2="367.65" y1="285.10" y2="286.80" stroke="#999" stroke-width="1"/>
<line x1="371.07" x2="371.07" y1="285.10" y2="286.80" stroke="#999" stroke-width="1"/>
<line x1="373.72" x2="373.72" y1="285.10" y2="286.80" stroke="#999" stroke-width="1"/>
<line x1="375.88" x2="375.88" y1="285.10" y2="286.80" stroke="#999" stroke-width="1"/>
<line x1="377.71" x2="377.71" y1="285.10" y2="286.80" stroke="#999" stroke-width="1"/>
<line x1="379.30" x2="379.30" y1="285.10" y2="286.80" stroke="#999" stroke-width="1"/>
<line x1="380.70" x2="380.70" y1="285.10" y2="286.80" stroke="#999" stroke-width="1"/>
<line x1="381.95" x2="381.95" y1="285.10" y2="287.80" stroke="#666" stroke-width="1"/>
<line x1="390.18" x2="390.18" y1="285.10" y2="286.80" stroke="#999" stroke-width="1"/>
<line x1="395.00" x2="395.00" y1="285.10" y2="286.80" stroke="#999" stroke-width="1"/>
<line x1="398.42" x2="398.42" y1="285.10" y2="286.80" stroke="#999" stroke-width="1"/>
<line x1="401.07" x2="401.07" y1="285.10" y2="286.80" stroke="#999" stroke-width="1"/>
<line x1="403.23" x2="403.23" y1="285.10" y2="286.80" stroke="#999" stroke-width="1"/>
<line x1="405.06" x2="405.06" y1="285.10" y2="286.80" stroke="#999" stroke-width="1"/>
<line x1="406.65" x2="406.65" y1="285.10" y2="286.80" stroke="#999" stroke-width="1"/>
<line x1="408.05" x2="408.05" y1="285.10" y2="286.80" stroke="#999" stroke-width="1"/>
<line x1="409.30" x2="409.30" y1="285.10" y2="287.80" stroke="#666" stroke-width="1"/>
<line x1="417.53" x2="417.53" y1="285.10" y2="286.80" stroke="#999" stroke-width="1"/>
<line x1="422.35" x2="422.35" y1="285.10" y2="286.80" stroke="#999" stroke-width="1"/>
<line x1="425.77" x2="425.77" y1="285.10" y2="286.80" stroke="#999" stroke-width="1"/>
<line x1="428.42" x2="428.42" y1="285.10" y2="286.80" stroke="#999" stroke-width="1"/>
<line x1="430.58" x2="430.58" y1="285.10" y2="286.80" stroke="#999" stroke-width="1"/>
<line x1="432.41" x2="432.41" y1="285.10" y2="286.80" stroke="#999" stroke-width="1"/>
<line x1="434.00" x2="434.00" y1="285.10" y2="286.80" stroke="#999" stroke-width="1"/>
<line x1="435.40" x2="435.40" y1="285.10" y2="286.80" stroke="#999" stroke-width="1"/>
<line x1="436.65" x2="436.65" y1="285.10" y2="287.80" stroke="#666" stroke-width="1"/>
<line x1="444.88" x2="444.88" y1="285.10" y2="286.80" stroke="#999" stroke-width="1"/>
<line x1="449.70" x2="449.70" y1="285.10" y2="286.80" stroke="#999" stroke-width="1"/>
<line x1="453.12" x2="453.12" y1="285.10" y2="286.80" stroke="#999" stroke-width="1"/>
<line x1="455.77" x2="455.77" y1="285.10" y2="286.80" stroke="#999" stroke-width="1"/>
<line x1="457.93" x2="457.93" y1="285.10" y2="286.80" stroke="#999" stroke-width="1"/>
<line x1="459.76" x2="459.76" y1="285.10" y2="286.80" stroke="#999" stroke-width="1"/>
<line x1="461.35" x2="461.35" y1="285.10" y2="286.80" stroke="#999" stroke-width="1"/>
<line x1="462.75" x2="462.75" y1="285.10" y2="286.80" stroke="#999" stroke-width="1"/>
<line x1="464.00" x2="464.00" y1="285.10" y2="287.80" stroke="#666" stroke-width="1"/>
<text transform="translate(342.02,304.80) scale(0.95,1)" font-size="11.2" fill="#222">10</text>
<text transform="translate(355.02,297.50) scale(0.85,1)" font-size="8.3" fill="#222">0</text>
<text transform="translate(369.37,304.80) scale(0.95,1)" font-size="11.2" fill="#222">10</text>
<text transform="translate(382.12,297.50) scale(0.85,1)" font-size="8.3" fill="#222">1</text>
<text transform="translate(396.72,304.80) scale(0.95,1)" font-size="11.2" fill="#222">10</text>
<text transform="translate(409.65,297.50) scale(0.85,1)" font-size="8.3" fill="#222">2</text>
<text transform="translate(424.07,304.80) scale(0.95,1)" font-size="11.2" fill="#222">10</text>
<text transform="translate(437.07,297.50) scale(0.85,1)" font-size="8.3" fill="#222">3</text>
<text transform="translate(451.42,304.80) scale(0.95,1)" font-size="11.2" fill="#222">10</text>
<text transform="translate(464.52,297.50) scale(0.85,1)" font-size="8.3" fill="#222">4</text>
<text x="434.15" y="192.00" font-size="12.3" font-weight="bold">209</text>
<rect x="163.3" y="391.5" width="2" height="199" fill="#000"/>
<rect x="163.3" y="588.5" width="190.5" height="2" fill="#000"/>
<text x="125.20" y="397.70" font-size="16.8">100</text>
<text x="134.52" y="436.96" font-size="16.8">80</text>
<text x="134.52" y="476.22" font-size="16.8">60</text>
<text x="134.52" y="515.48" font-size="16.8">40</text>
<text x="134.52" y="554.74" font-size="16.8">20</text>
<text x="143.85" y="594.00" font-size="16.8">0</text>
<rect x="180.3" y="394.5" width="26.9" height="195.9" fill="#fff" stroke="#000" stroke-width="1.8"/>
<rect x="274.8" y="394.5" width="27.8" height="195.9" fill="#fff" stroke="#000" stroke-width="1.8"/>
<rect x="214.2" y="509.8" width="29.8" height="80" fill="#000"/>
<rect x="311" y="529" width="28.2" height="61" fill="#000"/>
<rect x="228.3" y="505" width="1.8" height="6" fill="#000"/>
<rect x="226.3" y="505" width="5.4" height="1.7" fill="#000"/>
<rect x="323.3" y="510.2" width="1.9" height="20" fill="#000"/>
<rect x="322.1" y="510.2" width="5" height="1.7" fill="#000"/>
<path d="M228.00,493.00L228.00,487.80M228.00,493.00L232.95,491.39M228.00,493.00L231.06,497.21M228.00,493.00L224.94,497.21M228.00,493.00L223.05,491.39" stroke="#000" stroke-width="2.2" fill="none"/>
<path d="M324.20,501.00L324.20,495.80M324.20,501.00L329.15,499.39M324.20,501.00L327.26,505.21M324.20,501.00L321.14,505.21M324.20,501.00L319.25,499.39" stroke="#000" stroke-width="2.2" fill="none"/>
<text transform="translate(102.00,559.31) rotate(-90)" font-size="22.3">IL-2 (% vs ctrl)</text>
<text transform="translate(196.00,624.50) scale(1.05,1)" font-size="18.9">w.t.</text>
<text transform="translate(269.91,624.50) scale(1.045,1)" font-size="18.9" font-style="italic">fcgr2b-/-</text>
</svg></body></html>
